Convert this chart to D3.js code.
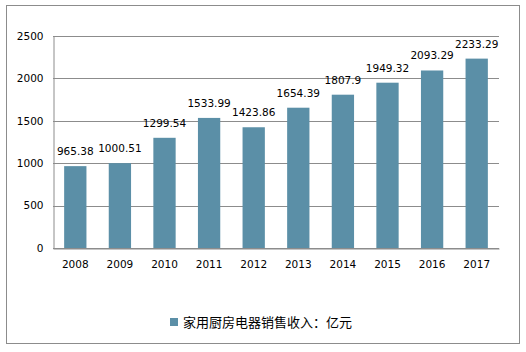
<!DOCTYPE html>
<html>
<head>
<meta charset="utf-8">
<script src="https://cdn.jsdelivr.net/npm/d3@7"></script>
<style>
  body { margin: 0; background: #fff; }
  svg text { font-family: "DejaVu Sans", Verdana, sans-serif; }
</style>
</head>
<body>
<svg id="chart"></svg>
<script>
const years = ["2008", "2009", "2010", "2011", "2012", "2013", "2014", "2015", "2016", "2017"];
const revenue = [965.38, 1000.51, 1299.54, 1533.99, 1423.86, 1654.39, 1807.9, 1949.32, 2093.29, 2233.29];
const yTicks = [0, 500, 1000, 1500, 2000, 2500];
const seriesName = "家用厨房电器销售收入：亿元";

const width = 526;
const height = 352;
const margin = { top: 36, right: 27, bottom: 104, left: 53 };
const barColor = "#5b8fa7";
const gridColor = "#8c8c8c";

const svg = d3.select("#chart")
    .attr("width", width)
    .attr("height", height);

// outer frame
svg.append("rect")
    .attr("x", 6.5).attr("y", 5.5)
    .attr("width", 513).attr("height", 338)
    .attr("fill", "none")
    .attr("stroke", "#8c8c8c")
    .attr("stroke-width", 1);

const x = d3.scaleBand()
    .domain(years)
    .range([margin.left, width - margin.right])
    .paddingInner(0.5)
    .paddingOuter(0.25);

const y = d3.scaleLinear()
    .domain([0, 2500])
    .range([height - margin.bottom, margin.top]);

// gridlines
svg.append("g")
    .selectAll("line")
    .data(yTicks)
    .enter().append("line")
    .attr("x1", margin.left)
    .attr("x2", width - margin.right)
    .attr("y1", d => Math.round(y(d)) + 0.5)
    .attr("y2", d => Math.round(y(d)) + 0.5)
    .attr("stroke", gridColor);

// y axis
const gY = svg.append("g")
    .attr("transform", `translate(${margin.left + 0.5},0)`)
    .call(d3.axisLeft(y).tickValues(yTicks).tickFormat(d3.format("d")).tickSize(0).tickPadding(10));
gY.select(".domain").attr("stroke", gridColor);
gY.selectAll("text").attr("font-size", "10.5px").attr("fill", "#000")
    .style("font-family", '"DejaVu Sans", Verdana, sans-serif');

// bars
svg.selectAll(".bar")
    .data(years)
    .enter().append("rect")
    .attr("class", "bar")
    .attr("x", d => x(d))
    .attr("width", x.bandwidth())
    .attr("y", (d, i) => y(revenue[i]))
    .attr("height", (d, i) => y(0) - y(revenue[i]))
    .attr("fill", barColor);

// value labels
svg.selectAll(".val")
    .data(years)
    .enter().append("text")
    .attr("class", "val")
    .attr("x", d => x(d) + x.bandwidth() / 2)
    .attr("y", (d, i) => y(revenue[i]) - 11)
    .attr("text-anchor", "middle")
    .attr("font-size", "10.5px")
    .text((d, i) => revenue[i]);

// x axis
const gX = svg.append("g")
    .attr("transform", `translate(0,${Math.round(y(0)) + 0.5})`)
    .call(d3.axisBottom(x).tickSize(0).tickPadding(12));
gX.select(".domain").attr("stroke", gridColor);
gX.selectAll("text").attr("font-size", "10.5px").attr("fill", "#000")
    .style("font-family", '"DejaVu Sans", Verdana, sans-serif');

// legend
const legend = svg.append("g").attr("transform", "translate(170,318)");
legend.append("rect")
    .attr("width", 8).attr("height", 8)
    .attr("fill", barColor);
legend.append("text")
    .attr("x", 13)
    .attr("y", 9)
    .attr("font-size", "13px")
    .style("font-family", '"Noto Sans CJK SC", sans-serif')
    .text(seriesName);
</script>
</body>
</html>
